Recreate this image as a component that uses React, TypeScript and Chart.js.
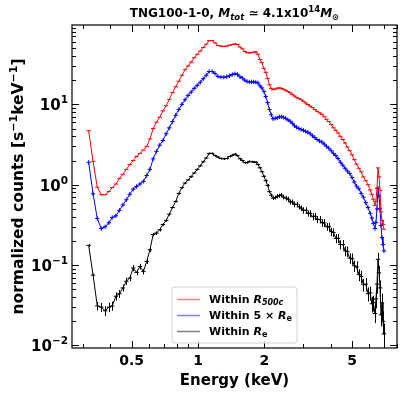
import React, { useEffect, useRef } from "react";
import { Chart, registerables } from "chart.js";

Chart.register(...registerables);

const FAMILY = "'DejaVu Sans', sans-serif";

const energy = [
  0.319, 0.334, 0.349, 0.364, 0.379, 0.394, 0.408, 0.424, 0.44, 0.456,
  0.473, 0.49, 0.508, 0.526, 0.545, 0.565, 0.585, 0.605, 0.626, 0.648,
  0.67, 0.693, 0.717, 0.741, 0.766, 0.792, 0.818, 0.845, 0.873, 0.902,
  0.931, 0.961, 0.992, 1.024, 1.057, 1.09, 1.124, 1.159, 1.195, 1.232,
  1.27, 1.31, 1.35, 1.39, 1.43, 1.47, 1.51, 1.55, 1.59, 1.63,
  1.67, 1.71, 1.75, 1.79, 1.83, 1.87, 1.91, 1.95, 1.99, 2.03,
  2.07, 2.11, 2.15, 2.19, 2.24, 2.29, 2.34, 2.39, 2.44, 2.5,
  2.56, 2.62, 2.68, 2.74, 2.8, 2.87, 2.94, 3.01, 3.08, 3.15,
  3.23, 3.31, 3.39, 3.47, 3.56, 3.65, 3.74, 3.83, 3.92, 4.02,
  4.12, 4.22, 4.32, 4.43, 4.54, 4.65, 4.76, 4.88, 5.0, 5.12,
  5.24, 5.37, 5.5, 5.63, 5.77, 5.91, 6.05, 6.15, 6.25, 6.35,
  6.42, 6.49, 6.56, 6.63, 6.7, 6.77, 6.84, 6.91, 6.98,
];

const countsR500c = [
  4.7, 1.95, 0.93, 0.75, 0.75, 0.82, 0.92, 1.02, 1.2, 1.35,
  1.55, 1.78, 2.0, 2.25, 2.45, 2.7, 3.0, 3.7, 5.0, 6.0,
  6.9, 8.3, 9.6, 11.5, 14.0, 16.5, 19.4, 23, 27, 30,
  33.5, 38, 42, 46, 51, 56, 62, 62, 58, 54,
  53, 52.5, 53, 54.5, 55.5, 56.5, 55.5, 51.5, 49, 45.5,
  44, 43.6, 44, 44.5, 45, 42, 36, 33, 28, 25,
  21, 17.5, 15.8, 15.2, 15.5, 15.9, 16.0, 15.8, 15.4, 15.0,
  14.4, 13.9, 13.3, 12.7, 12.2, 11.8, 11.4, 10.9, 10.4, 9.95,
  9.5, 9.1, 8.6, 8.2, 7.85, 7.5, 7.0, 6.5, 6.1, 5.6,
  5.1, 4.75, 4.4, 4.0, 3.65, 3.3, 2.95, 2.65, 2.35, 2.05,
  1.8, 1.6, 1.45, 1.25, 1.12, 1.0, 0.86, 0.76, 0.66, 0.55,
  0.62, 0.9, 1.62, 1.25, 0.85, 0.46, 0.36, 0.32, 0.28,
];

const counts5Re = [
  1.9, 0.77, 0.38, 0.285, 0.3, 0.335, 0.39, 0.41, 0.48, 0.56,
  0.65, 0.76, 0.88, 0.95, 1.02, 1.1, 1.3, 1.55, 2.1, 2.6,
  3.1, 3.55, 4.3, 5.1, 6.1, 7.3, 8.6, 10.0, 11.4, 12.9,
  14.2, 15.8, 17.2, 18.8, 20.8, 23.0, 25.6, 25.6, 24.2, 22.2,
  21.8, 21.7, 22.0, 22.6, 23.5, 24.0, 23.6, 22.0, 21.2, 20.0,
  19.2, 19.0, 19.0, 19.0, 18.8, 18.5, 17.0, 16.0, 14.5, 12.5,
  10.5, 8.6, 7.4, 6.6, 6.7, 6.8, 7.0, 7.0, 6.9, 6.7,
  6.4, 6.15, 5.8, 5.4, 5.2, 5.0, 4.85, 4.75, 4.6, 4.5,
  4.3, 4.05, 3.85, 3.65, 3.5, 3.4, 3.2, 3.0, 2.85, 2.65,
  2.45, 2.3, 2.12, 1.9, 1.75, 1.6, 1.48, 1.38, 1.23, 1.08,
  0.96, 0.89, 0.78, 0.7, 0.6, 0.52, 0.44, 0.385, 0.33, 0.285,
  0.34, 0.5, 0.91, 0.72, 0.5, 0.31, 0.22, 0.18, 0.15,
];

const countsRe = [
  0.176, 0.075, 0.031, 0.030, 0.027, 0.030, 0.031, 0.041, 0.044, 0.052,
  0.063, 0.069, 0.092, 0.081, 0.096, 0.083, 0.111, 0.155, 0.24, 0.25,
  0.275, 0.32, 0.36, 0.43, 0.52, 0.62, 0.78, 0.92, 1.05, 1.15,
  1.26, 1.40, 1.55, 1.72, 1.93, 2.15, 2.45, 2.45, 2.30, 2.20,
  2.12, 2.10, 2.12, 2.25, 2.32, 2.40, 2.30, 2.10, 2.0, 1.88,
  1.88, 1.95, 1.93, 1.92, 1.90, 1.78, 1.62, 1.45, 1.27, 1.12,
  0.98, 0.82, 0.74, 0.68, 0.69, 0.72, 0.73, 0.745, 0.70, 0.68,
  0.66, 0.61, 0.61, 0.57, 0.57, 0.53, 0.51, 0.48, 0.48, 0.44,
  0.44, 0.40, 0.405, 0.37, 0.37, 0.335, 0.335, 0.30, 0.30, 0.26,
  0.255, 0.215, 0.215, 0.18, 0.18, 0.15, 0.148, 0.122, 0.12, 0.098,
  0.095, 0.076, 0.072, 0.057, 0.058, 0.044, 0.045, 0.033, 0.034, 0.025,
  0.038, 0.058, 0.118, 0.08, 0.052, 0.024, 0.034, 0.02, 0.014,
];

// relative 1-sigma errors of the R_e spectrum
const errRe = [
  0.04, 0.05, 0.12, 0.13, 0.14, 0.13, 0.13, 0.12, 0.11, 0.10,
  0.10, 0.09, 0.09, 0.08, 0.08, 0.08, 0.07, 0.06, 0.05, 0.05,
  0.05, 0.04, 0.04, 0.04, 0.03, 0.03, 0.03, 0.03, 0.03, 0.03,
  0.03, 0.03, 0.03, 0.03, 0.03, 0.03, 0.03, 0.03, 0.03, 0.03,
  0.03, 0.03, 0.03, 0.03, 0.03, 0.03, 0.03, 0.03, 0.03, 0.03,
  0.03, 0.03, 0.03, 0.03, 0.03, 0.03, 0.03, 0.03, 0.03, 0.04,
  0.04, 0.04, 0.05, 0.05, 0.05, 0.06, 0.06, 0.06, 0.06, 0.07,
  0.07, 0.07, 0.07, 0.08, 0.08, 0.08, 0.08, 0.09, 0.09, 0.09,
  0.09, 0.10, 0.10, 0.10, 0.10, 0.11, 0.11, 0.11, 0.12, 0.12,
  0.12, 0.13, 0.13, 0.13, 0.14, 0.14, 0.15, 0.15, 0.16, 0.16,
  0.17, 0.17, 0.18, 0.18, 0.19, 0.2, 0.2, 0.22, 0.22, 0.24,
  0.24, 0.24, 0.2, 0.22, 0.24, 0.28, 0.3, 0.32, 0.34,
];

const xTickValues = [0.5, 1, 2, 5];
const xMinorValues = [0.3, 0.4, 0.6, 0.7, 0.8, 0.9, 3, 4, 6, 7, 8];
const yTickValues = [0.01, 0.1, 1, 10];
const yTickExponents = ["\u22122", "\u22121", "0", "1"];

type Run = { t: string; s: number; it?: boolean; dy?: number };

function drawRuns(
  ctx: CanvasRenderingContext2D,
  runs: Run[],
  x: number,
  y: number,
  align: "left" | "center" | "right"
) {
  const font = (r: Run) => `${r.it ? "italic " : ""}bold ${r.s}px ${FAMILY}`;
  let total = 0;
  for (const r of runs) {
    ctx.font = font(r);
    total += ctx.measureText(r.t).width;
  }
  let cx = align === "center" ? x - total / 2 : align === "right" ? x - total : x;
  ctx.textAlign = "left";
  ctx.textBaseline = "alphabetic";
  for (const r of runs) {
    ctx.font = font(r);
    ctx.fillText(r.t, cx, y + (r.dy || 0));
    cx += ctx.measureText(r.t).width;
  }
}

const decorPlugin = {
  id: "decor",
  afterDatasetsDraw(chart: any) {
    const ctx: CanvasRenderingContext2D = chart.ctx;
    const xs = chart.scales.x;
    const ys = chart.scales.y;
    const { left, right, top, bottom } = chart.chartArea;

    // error bars for R_e spectrum
    ctx.save();
    ctx.beginPath();
    ctx.rect(left, top, right - left, bottom - top);
    ctx.clip();
    ctx.strokeStyle = "#000";
    ctx.lineWidth = 1;
    ctx.beginPath();
    for (let i = 0; i < energy.length; i++) {
      const px = Math.round(xs.getPixelForValue(energy[i])) + 0.5;
      const y1 = ys.getPixelForValue(countsRe[i] * (1 + errRe[i]));
      const y2 = ys.getPixelForValue(countsRe[i] * (1 - errRe[i]));
      ctx.moveTo(px, y1);
      ctx.lineTo(px, y2);
    }
    ctx.stroke();
    ctx.restore();

    // frame
    ctx.save();
    ctx.strokeStyle = "#000";
    ctx.lineWidth = 1.2;
    ctx.strokeRect(left, top, right - left, bottom - top);

    // ticks (inward, all sides)
    ctx.lineWidth = 1;
    ctx.beginPath();
    const majorLen = 7;
    const minorLen = 4;
    const xt = (v: number, len: number) => {
      const px = Math.round(xs.getPixelForValue(v)) + 0.5;
      ctx.moveTo(px, bottom);
      ctx.lineTo(px, bottom - len);
      ctx.moveTo(px, top);
      ctx.lineTo(px, top + len);
    };
    xTickValues.forEach((v) => xt(v, majorLen));
    xMinorValues.forEach((v) => xt(v, minorLen));
    for (let d = -3; d <= 2; d++) {
      for (let k = 1; k <= 9; k++) {
        const v = k * Math.pow(10, d);
        if (v < ys.min || v > ys.max) continue;
        const py = Math.round(ys.getPixelForValue(v)) + 0.5;
        const len = k === 1 ? majorLen : minorLen;
        ctx.moveTo(left, py);
        ctx.lineTo(left + len, py);
        ctx.moveTo(right, py);
        ctx.lineTo(right - len, py);
      }
    }
    ctx.stroke();
    ctx.restore();

    // y tick labels (10^n with real superscripts)
    ctx.save();
    ctx.fillStyle = "#000";
    yTickValues.forEach((v, i) => {
      const py = ys.getPixelForValue(v);
      drawRuns(
        ctx,
        [
          { t: "10", s: 15 },
          { t: yTickExponents[i], s: 10.5, dy: -7 },
        ],
        left - 4,
        py + 6,
        "right"
      );
    });
    ctx.restore();

    // title
    ctx.save();
    ctx.fillStyle = "#000";
    const cxTitle = (left + right) / 2;
    drawRuns(
      ctx,
      [
        { t: "TNG100-1-0, ", s: 12 },
        { t: "M", s: 12, it: true },
        { t: "tot", s: 8.5, it: true, dy: 2.5 },
        { t: " \u2243 4.1x10", s: 12 },
        { t: "14", s: 8.5, dy: -5 },
        { t: "M", s: 12, it: true },
        { t: "\u2299", s: 8.5, dy: 2.5 },
      ],
      cxTitle,
      17,
      "center"
    );

    // axis titles
    ctx.font = `bold 15px ${FAMILY}`;
    ctx.textAlign = "center";
    ctx.textBaseline = "middle";
    ctx.fillText("Energy (keV)", cxTitle, 381);
    ctx.translate(23, (top + bottom) / 2);
    ctx.rotate(-Math.PI / 2);
    drawRuns(
      ctx,
      [
        { t: "normalized counts [s", s: 15.5 },
        { t: "\u22121", s: 11, dy: -6 },
        { t: "keV", s: 15.5 },
        { t: "\u22121", s: 11, dy: -6 },
        { t: "]", s: 15.5 },
      ],
      0,
      0,
      "center"
    );
    ctx.restore();

    // legend
    ctx.save();
    const lx = 172, ly = 287, lw = 125, lh = 56, r = 3;
    ctx.beginPath();
    ctx.moveTo(lx + r, ly);
    ctx.arcTo(lx + lw, ly, lx + lw, ly + lh, r);
    ctx.arcTo(lx + lw, ly + lh, lx, ly + lh, r);
    ctx.arcTo(lx, ly + lh, lx, ly, r);
    ctx.arcTo(lx, ly, lx + lw, ly, r);
    ctx.closePath();
    ctx.fillStyle = "rgba(255,255,255,0.8)";
    ctx.fill();
    ctx.strokeStyle = "#d0d0d0";
    ctx.lineWidth = 1;
    ctx.stroke();

    const rows: { c: string; runs: Run[] }[] = [
      {
        c: "rgba(255,0,0,0.5)",
        runs: [
          { t: "Within ", s: 11 },
          { t: "R", s: 11, it: true },
          { t: "500c", s: 8, it: true, dy: 2 },
        ],
      },
      {
        c: "rgba(0,0,255,0.5)",
        runs: [
          { t: "Within 5 \u00D7 ", s: 11 },
          { t: "R", s: 11, it: true },
          { t: "e", s: 8, dy: 2 },
        ],
      },
      {
        c: "rgba(0,0,0,0.5)",
        runs: [
          { t: "Within ", s: 11 },
          { t: "R", s: 11, it: true },
          { t: "e", s: 8, dy: 2 },
        ],
      },
    ];
    rows.forEach((row, i) => {
      const ry = 299 + i * 16;
      ctx.strokeStyle = row.c;
      ctx.lineWidth = 1.5;
      ctx.beginPath();
      ctx.moveTo(177, ry + 0.5);
      ctx.lineTo(200, ry + 0.5);
      ctx.stroke();
      ctx.fillStyle = "#000";
      drawRuns(ctx, row.runs, 209, ry + 4, "left");
    });
    ctx.restore();
  },
};

export default function App() {
  const canvasRef = useRef<HTMLCanvasElement | null>(null);

  useEffect(() => {
    if (!canvasRef.current) return;
    const mk = (vals: number[]) => energy.map((e, i) => ({ x: e, y: vals[i] }));
    const chart = new Chart(canvasRef.current, {
      type: "scatter",
      data: {
        datasets: [
          {
            label: "Within R500c",
            data: mk(countsR500c),
            showLine: true,
            borderColor: "#ff0000",
            backgroundColor: "#ff0000",
            borderWidth: 1,
            pointStyle: "line",
            pointRadius: 2.2,
            pointBorderWidth: 1,
            pointBorderColor: "#ff0000",
          },
          {
            label: "Within 5 x Re",
            data: mk(counts5Re),
            showLine: true,
            borderColor: "#0000ff",
            backgroundColor: "#0000ff",
            borderWidth: 1,
            pointStyle: "cross",
            pointRadius: 2.2,
            pointBorderWidth: 1,
            pointBorderColor: "#0000ff",
          },
          {
            label: "Within Re",
            data: mk(countsRe),
            showLine: true,
            borderColor: "#000000",
            backgroundColor: "#000000",
            borderWidth: 1,
            pointStyle: "line",
            pointRadius: 2.2,
            pointBorderWidth: 1,
            pointBorderColor: "#000000",
          },
        ],
      },
      options: {
        responsive: false,
        animation: false,
        layout: { padding: { top: 25, right: 10, left: 0, bottom: 0 } },
        plugins: {
          legend: { display: false },
          tooltip: { enabled: false },
          title: { display: false },
        },
        scales: {
          x: {
            type: "logarithmic",
            position: "bottom",
            min: 0.268,
            max: 8.0,
            afterBuildTicks: (s: any) => {
              s.ticks = xTickValues.map((v) => ({ value: v }));
            },
            afterFit: (s: any) => {
              s.height = 49;
            },
            ticks: {
              autoSkip: false,
              maxRotation: 0,
              padding: 5,
              color: "#000",
              font: { family: FAMILY, size: 14, weight: "bold" },
              callback: (v: any) => String(v),
            },
            grid: { display: false, drawTicks: false },
            border: { display: false },
          },
          y: {
            type: "logarithmic",
            min: 0.0093,
            max: 97,
            afterBuildTicks: (s: any) => {
              s.ticks = yTickValues.map((v) => ({ value: v }));
            },
            afterFit: (s: any) => {
              s.width = 72;
            },
            ticks: {
              display: false,
            },
            grid: { display: false, drawTicks: false },
            border: { display: false },
          },
        },
      } as any,
      plugins: [decorPlugin],
    });
    return () => chart.destroy();
  }, []);

  return (
    <canvas
      ref={canvasRef}
      width={407}
      height={397}
      style={{ position: "absolute", left: 0, top: 0, display: "block", width: 407, height: 397 }}
    />
  );
}
